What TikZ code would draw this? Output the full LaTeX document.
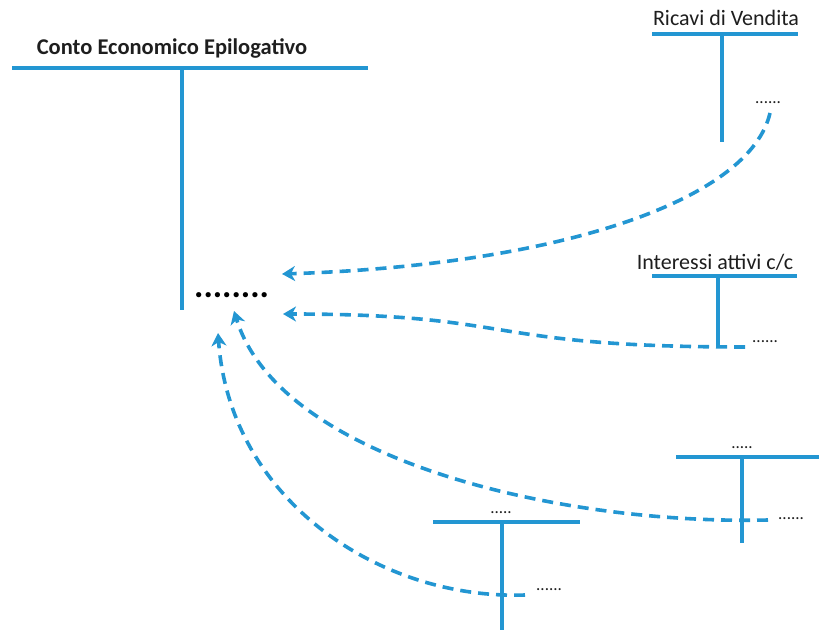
\documentclass[tikz,border=0pt]{standalone}
\usepackage{fontspec}
\setmainfont{Carlito}
\usetikzlibrary{arrows.meta}
\definecolor{tblue}{RGB}{35,150,210}
\definecolor{ttext}{RGB}{30,30,30}
\tikzset{
  tline/.style={draw=tblue,line width=3.2pt},
  flow/.style={draw=tblue,line width=3.6pt,dash pattern=on 11pt off 7pt,
    -{Stealth[length=13pt,width=15pt,inset=4pt]}},
  lbl/.style={inner sep=0pt,text=ttext,font=\fontsize{22}{26}\selectfont},
  sdots/.style={inner sep=0pt,text=ttext,font=\fontsize{17}{20}\selectfont},
}
\begin{document}
\begin{tikzpicture}[x=1pt,y=-1pt]
\useasboundingbox (0,0) rectangle (819,639);
% main account
\node[lbl,font=\bfseries\fontsize{22.5}{26}\selectfont,anchor=base] (ceTitle) at (172,55) {Conto Economico Epilogativo};
\coordinate (ceL) at (12,68); \coordinate (ceR) at (368,68);
\coordinate (ceT) at (182,68); \coordinate (ceB) at (182,310);
\draw[tline] (ceL) -- (ceR);
\draw[tline] (ceT) -- (ceB);
\node[inner sep=0pt,text=black,anchor=base west,font=\bfseries\fontsize{35}{35}\selectfont] (ceDots) at (194,297) {........};
\coordinate (in1) at (282,274);
\coordinate (in2) at (283,314);
\coordinate (in3) at (234,311);
\coordinate (in4) at (218,333);
% Ricavi di Vendita
\node[lbl,anchor=base] (rvTitle) at (726,26) {Ricavi di Vendita};
\coordinate (rvL) at (652,34); \coordinate (rvR) at (798,34);
\coordinate (rvT) at (722,34); \coordinate (rvB) at (722,142);
\draw[tline] (rvL) -- (rvR);
\draw[tline] (rvT) -- (rvB);
\node[sdots,anchor=base west] (rvDots) at (755,104) {......};
\coordinate (rvOut) at (770,113);
% Interessi attivi
\node[lbl,anchor=base] (iaTitle) at (715,269) {Interessi attivi c/c};
\coordinate (iaL) at (652,276); \coordinate (iaR) at (797,276);
\coordinate (iaT) at (718,276); \coordinate (iaB) at (718,346);
\draw[tline] (iaL) -- (iaR);
\draw[tline] (iaT) -- (iaB);
\node[sdots,anchor=base west] (iaDots) at (752,342) {......};
\coordinate (iaOut) at (745,347);
% bottom right account
\node[sdots,anchor=base] (brTop) at (742,448) {.....};
\coordinate (brL) at (676,457); \coordinate (brR) at (819,457);
\coordinate (brT) at (742,457); \coordinate (brB) at (742,543);
\draw[tline] (brL) -- (brR);
\draw[tline] (brT) -- (brB);
\node[sdots,anchor=base west] (brDots) at (778,519) {......};
\coordinate (brOut) at (768,520);
% bottom middle account
\node[sdots,anchor=base] (bmTop) at (501,513) {.....};
\coordinate (bmL) at (433,522); \coordinate (bmR) at (580,522);
\coordinate (bmT) at (502,522); \coordinate (bmB) at (502,630);
\draw[tline] (bmL) -- (bmR);
\draw[tline] (bmT) -- (bmB);
\node[sdots,anchor=base west] (bmDots) at (536,590) {......};
\coordinate (bmOut) at (525,595);
% flows
\draw[flow] (rvOut) .. controls (750,200) and (560,265) .. (in1);
\draw[flow] (iaOut) .. controls (480,347) and (520,314) .. (in2);
\draw[flow] (brOut) .. controls (560,525) and (280,460) .. (in3);
\draw[flow] (bmOut) .. controls (380,600) and (230,500) .. (in4);
\end{tikzpicture}
\end{document}
